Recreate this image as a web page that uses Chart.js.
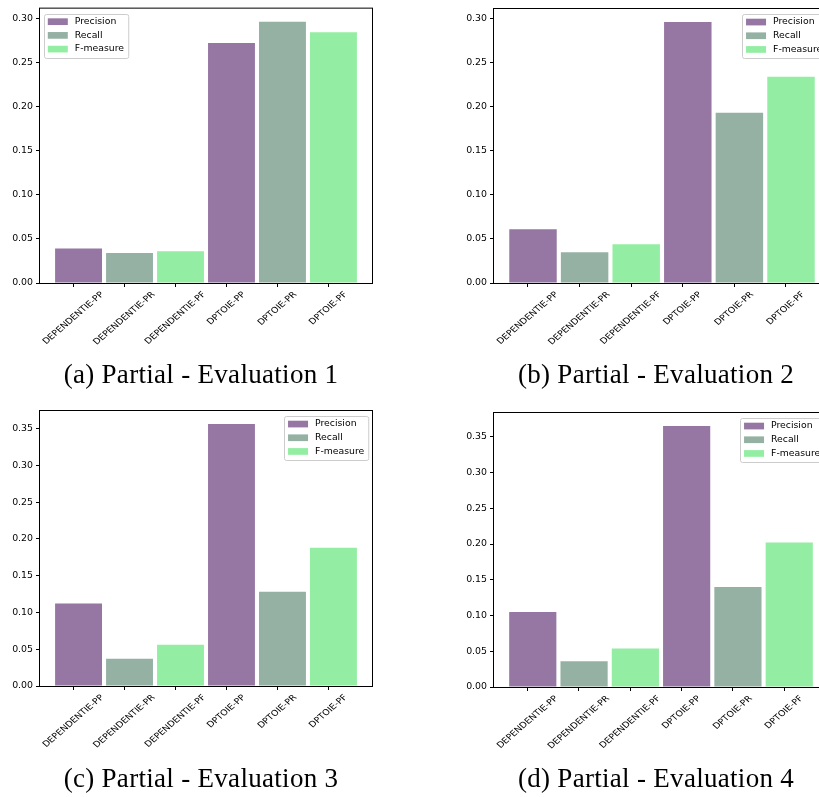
<!DOCTYPE html>
<html>
<head>
<meta charset="utf-8">
<script src="https://cdn.jsdelivr.net/npm/chart.js@4/dist/chart.umd.min.js"></script>
<style>
  html, body { margin: 0; padding: 0; background: #fff; }
  body { width: 819px; height: 797px; overflow: hidden; position: relative; }
  canvas { position: absolute; }
  .cap { position: absolute; width: 320px; text-align: center; font-family: "Liberation Serif", serif;
         font-size: 27px; line-height: 27px; letter-spacing: 0.3px; color: #000; white-space: nowrap; }
</style>
</head>
<body>
<canvas id="c1" width="410" height="365" style="left:0;top:0"></canvas>
<canvas id="c2" width="380" height="365" style="left:454px;top:0"></canvas>
<canvas id="c3" width="410" height="365" style="left:0;top:400px"></canvas>
<canvas id="c4" width="380" height="365" style="left:454px;top:400px"></canvas>
<div class="cap" id="t1" style="left:41px;top:361px"></div>
<div class="cap" id="t2" style="left:496px;top:361px"></div>
<div class="cap" id="t3" style="left:41px;top:765px"></div>
<div class="cap" id="t4" style="left:496px;top:765px"></div>
<script>
// data
const categories = ['DEPENDENTIE-PP', 'DEPENDENTIE-PR', 'DEPENDENTIE-PF', 'DPTOIE-PP', 'DPTOIE-PR', 'DPTOIE-PF'];
const seriesNames = ['Precision', 'Recall', 'F-measure'];
const eval1 = [0.039, 0.034, 0.036, 0.272, 0.296, 0.284];
const eval2 = [0.061, 0.035, 0.044, 0.296, 0.193, 0.234];
const eval3 = [0.112, 0.037, 0.056, 0.356, 0.128, 0.188];
const eval4 = [0.105, 0.036, 0.054, 0.365, 0.140, 0.202];
const yTicksLow = [0, 0.05, 0.10, 0.15, 0.20, 0.25, 0.30];
const yTicksHigh = [0, 0.05, 0.10, 0.15, 0.20, 0.25, 0.30, 0.35];
const captions = ['(a) Partial - Evaluation 1', '(b) Partial - Evaluation 2',
                  '(c) Partial - Evaluation 3', '(d) Partial - Evaluation 4'];

// styles
const colors = ['#9676a3', '#95b1a4', '#93eea3'];
const barShift = 0.1;
const squash = 0.86;   // the figures were shrunk a bit in height

/* box around the plot area */
const frame = {
  id: 'frame',
  afterDatasetsDraw(chart) {
    const { ctx, chartArea: a } = chart;
    ctx.save();
    ctx.strokeStyle = '#000';
    ctx.lineWidth = 1;
    ctx.strokeRect(a.left - 0.5, a.top - 0.5, a.right - a.left + 1, a.bottom - a.top + 1);
    ctx.restore();
  }
};

/* x labels turned 45 deg, centred under the tick */
const slantLabels = {
  id: 'slantLabels',
  afterDraw(chart) {
    const ctx = chart.ctx, xs = chart.scales.x, a = chart.chartArea;
    const fs = 9.5;
    ctx.save();
    ctx.font = fs + 'px "DejaVu Sans"';
    ctx.fillStyle = '#000';
    ctx.textAlign = 'center';
    ctx.textBaseline = 'middle';
    categories.forEach((c, i) => {
      const L = ctx.measureText(c).width;
      const H = (L + fs * 1.1) * Math.SQRT1_2 * squash;
      ctx.save();
      ctx.translate(xs.getPixelForValue(i), a.bottom + 7 + H / 2);
      ctx.scale(1, squash);
      ctx.rotate(-Math.PI / 4);
      ctx.fillText(c, 0, 0);
      ctx.restore();
    });
    ctx.restore();
  }
};

/* legend with a frame, inside the plot */
const boxLegend = {
  id: 'boxLegend',
  afterDraw(chart, args, opts) {
    const ctx = chart.ctx, a = chart.chartArea;
    const fs = 9.3;
    ctx.save();
    ctx.font = fs + 'px "DejaVu Sans"';
    const sets = chart.data.datasets;
    const tw = Math.max(...sets.map(d => ctx.measureText(d.label).width));
    const w = 4.3 + 20 + 7 + tw + 3.7;
    const h = 44;
    const x = opts.side === 'left' ? a.left + 3.5 : a.right - 4 - w;
    const y = a.top + 5;
    ctx.beginPath();
    ctx.roundRect(Math.round(x) + 0.5, Math.round(y) + 0.5, w, h, 2);
    ctx.fillStyle = 'rgba(255,255,255,0.8)';
    ctx.fill();
    ctx.strokeStyle = '#cccccc';
    ctx.lineWidth = 1;
    ctx.stroke();
    ctx.textAlign = 'left';
    ctx.textBaseline = 'middle';
    sets.forEach((d, k) => {
      const cy = y + 8 + k * 13.7;
      ctx.fillStyle = d.backgroundColor;
      ctx.fillRect(x + 4.3, cy - 3.3, 20, 6.7);
      ctx.fillStyle = '#000';
      ctx.fillText(d.label, x + 31.3, cy);
    });
    ctx.restore();
  }
};

function makeChart(id, values, yTicks, side, pad, xHeight) {
  const datasets = seriesNames.map((name, s) => ({
    label: name,
    backgroundColor: colors[s],
    borderWidth: 0,
    grouped: false,
    barPercentage: 0.92,
    categoryPercentage: 1,
    data: categories.map((c, i) => ({ x: i + barShift, y: values[i] })).filter((p, i) => i % 3 === s)
  }));
  return new Chart(document.getElementById(id), {
    type: 'bar',
    data: { datasets },
    options: {
      responsive: false,
      animation: false,
      layout: { padding: { top: pad.top, right: pad.right, left: 0, bottom: 0 } },
      plugins: { legend: { display: false }, tooltip: { enabled: false }, boxLegend: { side } },
      scales: {
        x: {
          type: 'linear',
          offset: false,
          min: -0.656,
          max: 5.856,
          afterBuildTicks: sc => { sc.ticks = categories.map((c, i) => ({ value: i })); },
          afterFit: sc => { sc.height = xHeight; },
          ticks: { display: false },
          grid: { offset: false, drawOnChartArea: false, tickLength: 4, color: '#000' },
          border: { display: false }
        },
        y: {
          min: 0,
          max: Math.max(...values) * 1.05,
          afterBuildTicks: sc => { sc.ticks = yTicks.map(v => ({ value: v })); },
          afterFit: sc => { sc.width = 40; },
          ticks: {
            callback: v => v.toFixed(2),
            font: { family: 'DejaVu Sans', size: 9.4 },
            color: '#000',
            padding: 3
          },
          grid: { drawOnChartArea: false, tickLength: 4, color: '#000' },
          border: { display: false }
        }
      }
    },
    plugins: [frame, slantLabels, boxLegend]
  });
}

makeChart('c1', eval1, yTicksLow, 'left', { top: 6, right: 38 }, 82);
makeChart('c2', eval2, yTicksLow, 'right', { top: 9, right: 4 }, 82);
makeChart('c3', eval3, yTicksHigh, 'right', { top: 11, right: 38 }, 79);
makeChart('c4', eval4, yTicksHigh, 'right', { top: 13, right: 6 }, 78);

captions.forEach((t, i) => { document.getElementById('t' + (i + 1)).textContent = t; });
</script>
</body>
</html>
